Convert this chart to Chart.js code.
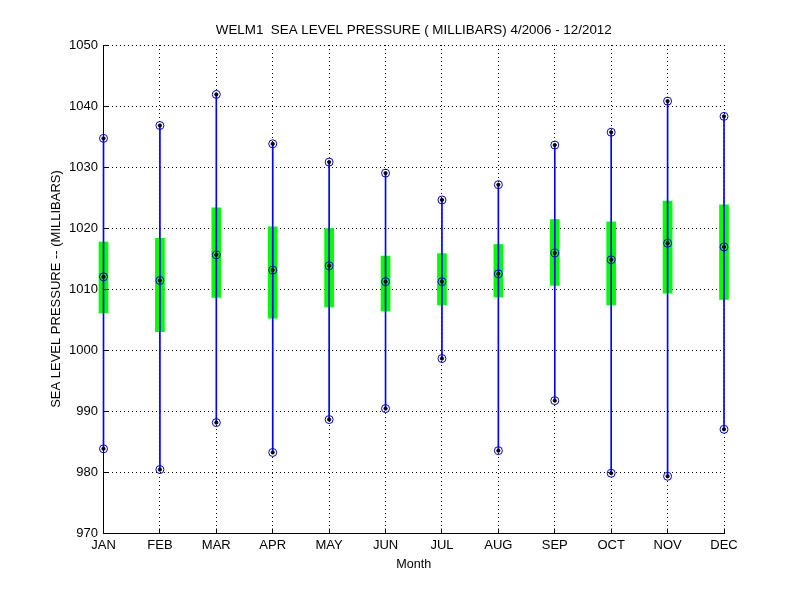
<!DOCTYPE html>
<html><head><meta charset="utf-8">
<script src="https://cdn.jsdelivr.net/npm/chart.js@4"></script>
<style>html,body{margin:0;padding:0;background:#fff}</style>
</head><body>
<canvas id="c" width="800" height="600"></canvas>
<script>
const months = ['JAN','FEB','MAR','APR','MAY','JUN','JUL','AUG','SEP','OCT','NOV','DEC'];
const minVals  = [983.8, 980.4, 988.1, 983.2, 988.6, 990.4, 998.6, 983.5, 991.7, 979.8, 979.3, 987.0];
const q1Vals   = [1006.1, 1003.0, 1008.6, 1005.2, 1007.1, 1006.4, 1007.4, 1008.7, 1010.6, 1007.4, 1009.3, 1008.3];
const meanVals = [1012.0, 1011.4, 1015.6, 1013.1, 1013.8, 1011.2, 1011.2, 1012.5, 1015.9, 1014.8, 1017.5, 1016.9];
const q3Vals   = [1017.7, 1018.3, 1023.3, 1020.2, 1019.9, 1015.4, 1015.8, 1017.3, 1021.4, 1021.0, 1024.4, 1023.8];
const maxVals  = [1034.7, 1036.8, 1041.9, 1033.8, 1030.8, 1029.0, 1024.6, 1027.1, 1033.6, 1035.7, 1040.8, 1038.3];
const yMin = 970, yMax = 1050, yStep = 10;
const titleText = 'WELM1  SEA LEVEL PRESSURE ( MILLIBARS) 4/2006 - 12/2012';
const yTitle = 'SEA LEVEL PRESSURE -- (MILLIBARS)';
const xTitle = 'Month';

const FONT = "'Liberation Sans', Arial, sans-serif";

const innerTicks = {
  id: 'innerTicks',
  afterDraw(chart) {
    const {ctx, chartArea: a, scales: {x, y}} = chart;
    ctx.save();
    ctx.strokeStyle = '#000'; ctx.lineWidth = 1;
    ctx.beginPath();
    const lx = Math.floor(a.left) + 0.5, by = Math.floor(a.bottom) + 0.5;
    y.ticks.forEach(t => { const py = Math.floor(y.getPixelForValue(t.value)) + 0.5; ctx.moveTo(lx, py); ctx.lineTo(lx + 5, py); });
    x.ticks.forEach((t, i) => { const px = Math.floor(x.getPixelForTick(i)) + 0.5; ctx.moveTo(px, by); ctx.lineTo(px, by - 5); });
    ctx.stroke();
    ctx.restore();
  }
};

const plotTitle = {
  id: 'plotTitle',
  afterDraw(chart) {
    const {ctx, chartArea: a} = chart;
    ctx.save();
    ctx.fillStyle = '#000';
    ctx.font = '13.4px ' + FONT;
    ctx.textAlign = 'center';
    ctx.textBaseline = 'middle';
    ctx.fillText(titleText, (a.left + a.right) / 2, 30);
    ctx.restore();
  }
};

const pts = (vals, r, border, fill, order) => ({
  type: 'line', data: vals, showLine: false, clip: false, order,
  pointRadius: r, pointHoverRadius: r, pointBorderWidth: 1,
  pointBorderColor: border, pointBackgroundColor: fill
});

new Chart(document.getElementById('c'), {
  type: 'bar',
  data: {
    labels: months,
    datasets: [
      { data: months.map((m, i) => [q1Vals[i], q3Vals[i]]), backgroundColor: '#00ff00', barThickness: 9, grouped: false, clip: false, order: 5, borderWidth: 0 },
      { data: months.map((m, i) => [minVals[i], maxVals[i]]), backgroundColor: '#0000ff', barThickness: 1, grouped: false, clip: false, order: 4, borderWidth: 0 },
      pts(minVals, 4, '#0000cc', 'rgba(0,0,0,0)', 3),
      pts(meanVals, 4, '#0000cc', 'rgba(0,0,0,0)', 3),
      pts(maxVals, 4, '#0000cc', 'rgba(0,0,0,0)', 3),
      pts(minVals, 1.6, '#000', '#000', 1),
      pts(meanVals, 1.6, '#000', '#000', 1),
      pts(maxVals, 1.6, '#000', '#000', 1)
    ]
  },
  options: {
    responsive: false,
    animation: false,
    devicePixelRatio: 1,
    layout: { padding: { left: 0, right: 76, top: 45, bottom: 0 } },
    plugins: {
      legend: { display: false },
      tooltip: { enabled: false },
      title: { display: false }
    },
    scales: {
      x: {
        type: 'category', offset: false,
        grid: { offset: false, color: '#000', lineWidth: 1, drawTicks: false },
        border: { display: true, color: '#000', width: 1, dash: [1, 3], z: -1 },
        ticks: { color: '#000', font: { family: FONT, size: 13 }, padding: 5, maxRotation: 0, autoSkip: false },
        title: { display: true, text: xTitle, color: '#000', font: { family: FONT, size: 12.6 }, padding: { top: 0, bottom: 28 } },
        afterFit(s) { s.height = 67; }
      },
      y: {
        min: yMin, max: yMax,
        grid: { color: '#000', lineWidth: 1, drawTicks: false },
        border: { display: true, color: '#000', width: 1, dash: [1, 3], z: -1 },
        ticks: { stepSize: yStep, color: '#000', font: { family: FONT, size: 13 }, padding: 5.5, callback: v => String(v) },
        title: { display: true, text: yTitle, color: '#000', font: { family: FONT, size: 13 }, padding: { top: 49, bottom: 0 } },
        afterFit(s) { s.width = 103.5; }
      }
    }
  },
  plugins: [innerTicks, plotTitle]
});
</script>
</body></html>
